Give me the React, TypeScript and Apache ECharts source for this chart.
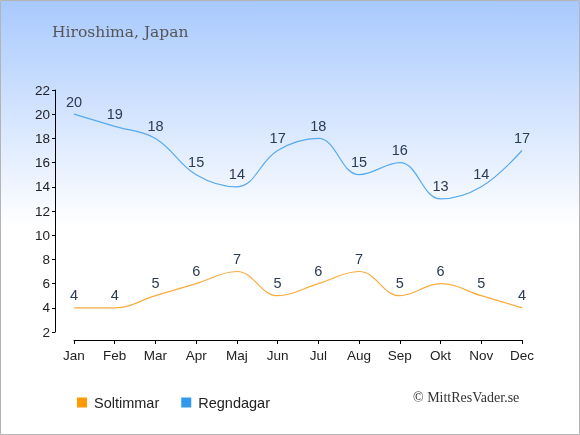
import React, { useEffect, useRef } from "react";
import * as echarts from "echarts";

const months = ["Jan", "Feb", "Mar", "Apr", "Maj", "Jun", "Jul", "Aug", "Sep", "Okt", "Nov", "Dec"];
const soltimmar = [4, 4, 5, 6, 7, 5, 6, 7, 5, 6, 5, 4];
const regndagar = [20, 19, 18, 15, 14, 17, 18, 15, 16, 13, 14, 17];
const yTicks = { min: 2, max: 22, interval: 2 };

export default function App() {
  const ref = useRef<HTMLDivElement>(null);
  useEffect(() => {
    if (!ref.current) return;
    const chart = echarts.init(ref.current, null, { renderer: "svg" });
    const labelStyle = {
      show: true,
      position: "top" as const,
      distance: 5,
      color: "#2b3a55",
      fontSize: 14.5,
      fontFamily: "Liberation Sans, Arial, sans-serif",
    };
    chart.setOption({
      animation: false,
      graphic: [
        {
          type: "rect",
          z: -10,
          silent: true,
          shape: { x: 0.5, y: 0.5, width: 579, height: 434 },
          style: {
            fill: new echarts.graphic.LinearGradient(0, 0, 0, 1, [
              { offset: 0, color: "#a8c9fd" },
              { offset: 0.52, color: "#ffffff" },
              { offset: 1, color: "#ffffff" },
            ]),
            stroke: "#b4b4b4",
            lineWidth: 1,
          },
        },
        {
          type: "text",
          left: 52,
          top: 24,
          style: {
            text: "Hiroshima, Japan",
            fill: "#555555",
            font: "15.5px 'DejaVu Serif', 'Liberation Serif', serif",
          },
        },
        {
          type: "text",
          left: 413,
          top: 390,
          style: {
            text: "© MittResVader.se",
            fill: "#333333",
            font: "14px 'Liberation Serif', serif",
          },
        },
      ],
      legend: {
        left: 72,
        top: 390,
        itemWidth: 10,
        itemHeight: 10,
        itemGap: 22,
        icon: "rect",
        textStyle: {
          fontSize: 14.5,
          color: "#222",
          padding: [0, 0, 0, 2],
          fontFamily: "Liberation Sans, Arial, sans-serif",
        },
        data: ["Soltimmar", "Regndagar"],
      },
      grid: { left: 74, right: 58, top: 90, bottom: 103 },
      xAxis: {
        type: "category",
        data: months,
        boundaryGap: false,
        offset: 8,
        axisLine: { lineStyle: { color: "#000", width: 1 } },
        axisTick: { show: true, length: 4, lineStyle: { color: "#000" } },
        axisLabel: { color: "#222", fontSize: 13.5, margin: 8, fontFamily: "Liberation Sans, Arial, sans-serif" },
      },
      yAxis: {
        type: "value",
        min: yTicks.min,
        max: yTicks.max,
        interval: yTicks.interval,
        offset: 19,
        splitLine: { show: false },
        axisLine: { show: true, lineStyle: { color: "#000", width: 1 } },
        axisTick: { show: true, length: 3, lineStyle: { color: "#000" } },
        axisLabel: { color: "#222", fontSize: 13.5, margin: 5, fontFamily: "Liberation Sans, Arial, sans-serif" },
      },
      series: [
        {
          name: "Soltimmar",
          type: "line",
          data: soltimmar,
          smooth: 0.4,
          symbol: "circle",
          symbolSize: 0,
          showSymbol: true,
          itemStyle: { color: "#ff9900" },
          lineStyle: { color: "#fbab3c", width: 1.2 },
          label: labelStyle,
        },
        {
          name: "Regndagar",
          type: "line",
          data: regndagar,
          smooth: 0.4,
          symbol: "circle",
          symbolSize: 0,
          showSymbol: true,
          itemStyle: { color: "#3399ee" },
          lineStyle: { color: "#55aaf0", width: 1.2 },
          label: labelStyle,
        },
      ],
    });
    return () => chart.dispose();
  }, []);
  return (
    <div
      ref={ref}
      style={{ position: "fixed", left: 0, top: 0, width: 580, height: 435 }}
    />
  );
}
